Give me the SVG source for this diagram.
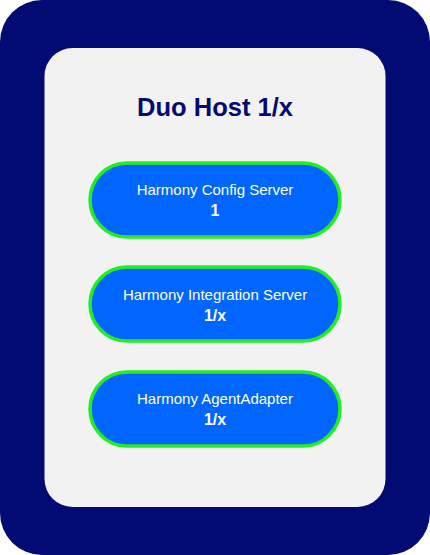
<svg xmlns="http://www.w3.org/2000/svg" width="430" height="555" viewBox="0 0 430 555">
<style>
.pill{fill:#0066ff;stroke:#22ee22;stroke-width:3.5}
.t{font-family:"Liberation Sans",Arial,sans-serif;font-size:15px;fill:#ffffff;text-anchor:middle}
.b{font-weight:bold;font-size:16px}
</style>
<g id="outer"><rect x="0" y="0" width="430" height="555" rx="42" ry="42" fill="#020b73"/></g>
<g id="host">
<rect x="44.5" y="48" width="341" height="459" rx="28" ry="28" fill="#f2f2f2"/>
<text x="215" y="116" font-family="Liberation Sans,Arial,sans-serif" font-size="25.5" font-weight="bold" fill="#020b73" text-anchor="middle">Duo Host 1/x</text>
</g>
<g id="connectors"></g>
<g id="config">
<rect class="pill" x="90" y="163" width="250" height="74" rx="37" ry="37"/>
<text class="t" x="215" y="195">Harmony Config Server</text>
<text class="t b" x="215" y="216">1</text>
</g>
<g id="integration">
<rect class="pill" x="90" y="267" width="250" height="74" rx="37" ry="37"/>
<text class="t" x="215" y="300">Harmony Integration Server</text>
<text class="t b" x="215" y="321">1/x</text>
</g>
<g id="agent">
<rect class="pill" x="90" y="372" width="250" height="74" rx="37" ry="37"/>
<text class="t" x="215" y="404">Harmony AgentAdapter</text>
<text class="t b" x="215" y="425">1/x</text>
</g>
</svg>
